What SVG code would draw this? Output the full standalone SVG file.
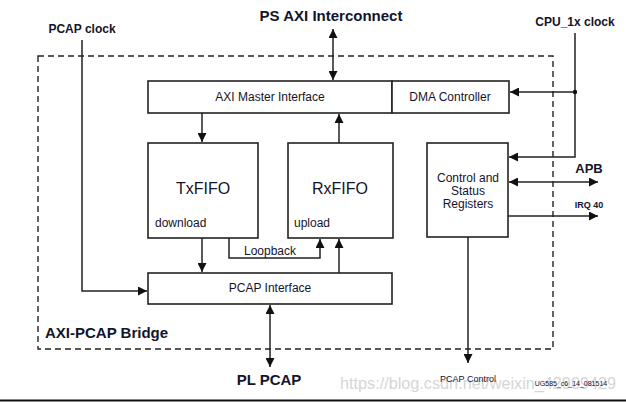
<svg xmlns="http://www.w3.org/2000/svg" width="626" height="402" viewBox="0 0 626 402">
<defs>
<marker id="ah" viewBox="0 0 10 10" refX="10" refY="5" markerWidth="9" markerHeight="9" markerUnits="userSpaceOnUse" orient="auto-start-reverse">
<path d="M0,0 L10,5 L0,10 Z" fill="#111"/>
</marker>
<style>
.box{fill:#fff;stroke:#222;stroke-width:1.6}
.ln{fill:none;stroke:#222;stroke-width:1.5}
.t{font-family:"Liberation Sans",Arial,sans-serif;fill:#14142a}
.b{font-weight:bold}
.wm{fill:#d6d6d6}
</style>
</defs>
<rect width="626" height="402" fill="#fff"/>
<rect id="bridge" x="38" y="56" width="515" height="293" fill="none" stroke="#222" stroke-width="1.4" stroke-dasharray="6,4"/>

<g id="connectors">
<line class="ln" x1="333" y1="29" x2="333" y2="80" marker-start="url(#ah)" marker-end="url(#ah)"/>
<polyline class="ln" points="575,33 575,157 509,157" marker-end="url(#ah)"/>
<line class="ln" x1="575" y1="92" x2="510" y2="92" marker-end="url(#ah)"/>
<circle cx="575" cy="92" r="2.2" fill="#111"/>
<polyline class="ln" points="82,40 82,291 147,291" marker-end="url(#ah)"/>
<line class="ln" x1="202" y1="113" x2="202" y2="142" marker-end="url(#ah)"/>
<line class="ln" x1="339" y1="143" x2="339" y2="114" marker-end="url(#ah)"/>
<line class="ln" x1="162" y1="150" x2="162" y2="213" marker-end="url(#ah)"/>
<line class="ln" x1="302" y1="213" x2="302" y2="150" marker-end="url(#ah)"/>
<line class="ln" x1="202" y1="238" x2="202" y2="272" marker-end="url(#ah)"/>
<polyline class="ln" points="229,238 229,258 320,258 320,239" marker-end="url(#ah)"/>
<line class="ln" x1="339" y1="273" x2="339" y2="239" marker-end="url(#ah)"/>
<line class="ln" x1="270" y1="305" x2="270" y2="367" marker-start="url(#ah)" marker-end="url(#ah)"/>
<line class="ln" x1="509" y1="182" x2="598" y2="182" marker-start="url(#ah)" marker-end="url(#ah)"/>
<line class="ln" x1="508" y1="216" x2="598" y2="216" marker-end="url(#ah)"/>
<line class="ln" x1="468" y1="237" x2="468" y2="363" marker-end="url(#ah)"/>
</g>

<g id="axi-master">
<rect class="box" x="148" y="81" width="244" height="32"/>
<text class="t" x="270" y="101" font-size="12" text-anchor="middle">AXI Master Interface</text>
</g>
<g id="dma">
<rect class="box" x="392" y="81" width="117" height="32"/>
<text class="t" x="450" y="101" font-size="12" text-anchor="middle">DMA Controller</text>
</g>
<g id="txfifo">
<rect class="box" x="148" y="143" width="110" height="95"/>
<text class="t" x="203" y="194" font-size="16" text-anchor="middle">TxFIFO</text>
<text class="t" x="155" y="227" font-size="12">download</text>
</g>
<g id="rxfifo">
<rect class="box" x="288" y="143" width="105" height="95"/>
<text class="t" x="340" y="194" font-size="16" text-anchor="middle">RxFIFO</text>
<text class="t" x="294" y="227" font-size="12">upload</text>
</g>
<g id="csr">
<rect class="box" x="427" y="143" width="81" height="94"/>
<text class="t" x="468" y="182" font-size="12" text-anchor="middle">Control and</text>
<text class="t" x="468" y="195" font-size="12" text-anchor="middle">Status</text>
<text class="t" x="468" y="208" font-size="12" text-anchor="middle">Registers</text>
</g>
<g id="pcap-if">
<rect class="box" x="148" y="273" width="244" height="31"/>
<text class="t" x="270" y="292" font-size="12" text-anchor="middle">PCAP Interface</text>
</g>

<g id="labels">
<text class="t b" x="331" y="21" font-size="15" text-anchor="middle">PS AXI Interconnect</text>
<text class="t b" x="575" y="26" font-size="12" text-anchor="middle">CPU_1x clock</text>
<text class="t b" x="82" y="33" font-size="12" text-anchor="middle">PCAP clock</text>
<text class="t" x="244" y="255" font-size="12">Loopback</text>
<text class="t b" x="45" y="338" font-size="15">AXI-PCAP Bridge</text>
<text class="t b" x="269" y="385" font-size="15" text-anchor="middle">PL PCAP</text>
<text class="t b" x="589" y="173" font-size="13" text-anchor="middle">APB</text>
<text class="t b" x="589" y="208" font-size="9" text-anchor="middle">IRQ 40</text>
<text class="t wm" x="340" y="389" font-size="16" textLength="276" lengthAdjust="spacingAndGlyphs">https://blog.csdn.net/weixin_42909429</text>
<text class="t" x="468" y="382" font-size="9" text-anchor="middle">PCAP Control</text>
<text class="t" x="571" y="386" font-size="7" text-anchor="middle">UG585_c6_14_081514</text>
</g>
<line x1="0" y1="400.5" x2="626" y2="400.5" stroke="#111" stroke-width="2"/>
</svg>
